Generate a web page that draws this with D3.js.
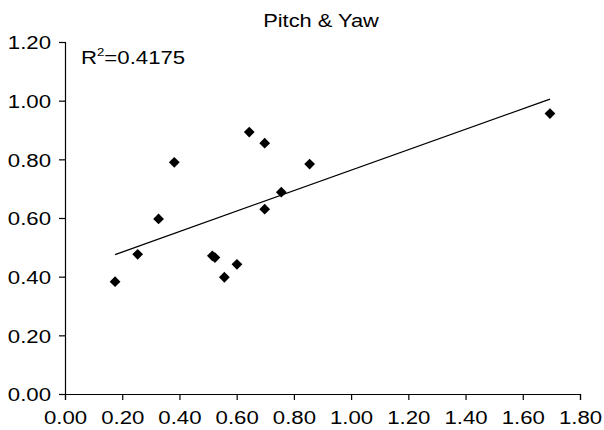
<!DOCTYPE html>
<html>
<head>
<meta charset="utf-8">
<script src="https://cdn.jsdelivr.net/npm/d3@7"></script>
<style>
  html, body { margin: 0; padding: 0; background: #fff; }
  svg text { font-family: "Liberation Sans", Arial, sans-serif; fill: #000; }
</style>
</head>
<body>
<svg id="chart" width="604" height="430"></svg>
<script>
const title = "Pitch & Yaw";
const pitch = [0.175, 0.254, 0.327, 0.382, 0.515, 0.524, 0.557, 0.601, 0.644, 0.698, 0.698, 0.756, 0.855, 1.695];
const yaw   = [0.383, 0.476, 0.597, 0.790, 0.471, 0.465, 0.398, 0.442, 0.893, 0.855, 0.630, 0.688, 0.784, 0.956];
const xTicks = [0, 0.2, 0.4, 0.6, 0.8, 1.0, 1.2, 1.4, 1.6, 1.8];
const yTicks = [0, 0.2, 0.4, 0.6, 0.8, 1.0, 1.2];
const r2Text = "0.4175";

const svg = d3.select("#chart");
const x = d3.scaleLinear().domain([0, 1.8]).range([65, 580]);
const y = d3.scaleLinear().domain([0, 1.2]).range([394, 42]);
const SX = 1.2;

// title
svg.append("text")
  .attr("transform", `translate(321,27) scale(1.18,1)`)
  .attr("text-anchor", "middle")
  .style("font-size", "18.5px")
  .text(title);

// axes
const xAxis = svg.append("g").attr("transform", "translate(0,394)")
  .call(d3.axisBottom(x).tickValues(xTicks).tickFormat(d3.format(".2f")).tickSize(6).tickSizeOuter(6));
const yAxis = svg.append("g").attr("transform", "translate(65,0)")
  .call(d3.axisLeft(y).tickValues(yTicks).tickFormat(d3.format(".2f")).tickSize(6).tickSizeOuter(6));

[xAxis, yAxis].forEach(g => {
  g.select(".domain").attr("stroke", "#000").attr("stroke-width", 1.2);
  g.selectAll(".tick line").attr("stroke", "#000").attr("stroke-width", 1.2);
  g.selectAll(".tick text").style("font-size", "18.5px").attr("font-family", null).attr("fill", "#000");
});
xAxis.selectAll(".tick text").attr("y", 0).attr("dy", 0)
  .attr("transform", `translate(0,29.5) scale(${SX},1)`);
yAxis.selectAll(".tick text").attr("x", 0).attr("dy", 0)
  .attr("transform", `translate(-14,6.7) scale(${SX},1)`);

// regression
const n = pitch.length;
const mx = d3.mean(pitch), my = d3.mean(yaw);
let sxy = 0, sxx = 0;
for (let i = 0; i < n; i++) { sxy += (pitch[i]-mx)*(yaw[i]-my); sxx += (pitch[i]-mx)**2; }
const slope = sxy / sxx, intercept = my - slope * mx;
const x0 = d3.min(pitch), x1 = d3.max(pitch);
svg.append("line")
  .attr("x1", x(x0)).attr("y1", y(intercept + slope * x0))
  .attr("x2", x(x1)).attr("y2", y(intercept + slope * x1))
  .attr("stroke", "#000").attr("stroke-width", 1.3);

// points
const diamond = d3.symbol().type(d3.symbolSquare).size(58);
svg.append("g").selectAll("path").data(pitch.map((p, i) => [p, yaw[i]])).join("path")
  .attr("d", diamond)
  .attr("transform", d => `translate(${x(d[0])},${y(d[1])}) rotate(45)`)
  .attr("fill", "#000");

// R² label
const r2 = svg.append("text")
  .attr("transform", "translate(81,64) scale(1.2,1)")
  .style("font-size", "18.5px");
r2.append("tspan").text("R");
r2.append("tspan").attr("dy", -8).style("font-size", "11px").text("2");
r2.append("tspan").attr("dy", 8).text("=" + r2Text);
</script>
</body>
</html>
